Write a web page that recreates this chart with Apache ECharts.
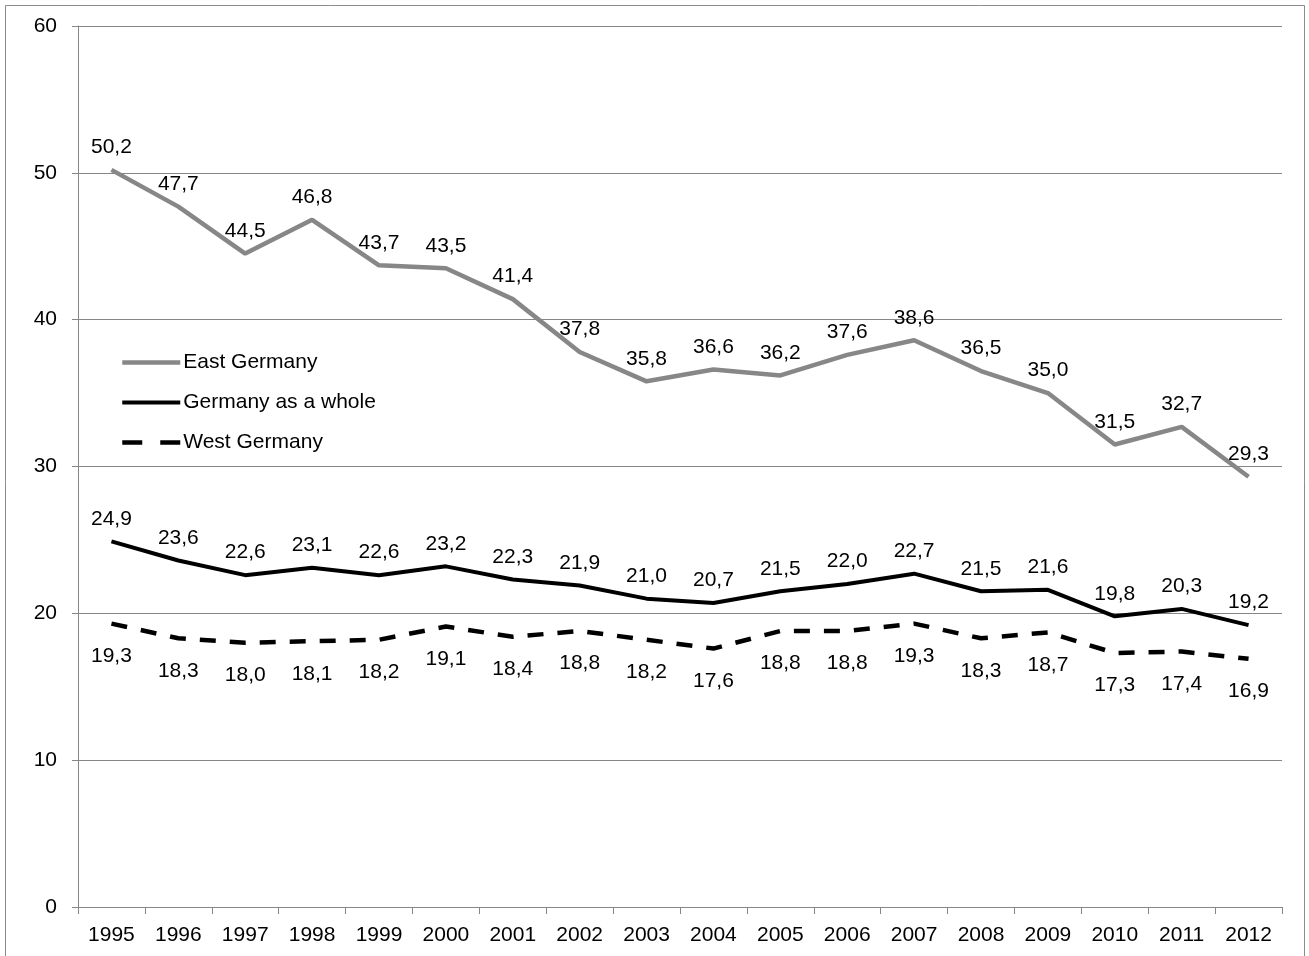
<!DOCTYPE html>
<html>
<head>
<meta charset="utf-8">
<script src="https://cdn.jsdelivr.net/npm/echarts@6/dist/echarts.min.js"></script>
<style>
html,body{margin:0;padding:0;background:#fff;}
#chart{width:1309px;height:956px;}
</style>
</head>
<body>
<div id="chart"></div>
<script>
const years = ['1995','1996','1997','1998','1999','2000','2001','2002','2003','2004','2005','2006','2007','2008','2009','2010','2011','2012'];
const eastGermany = [50.2,47.7,44.5,46.8,43.7,43.5,41.4,37.8,35.8,36.6,36.2,37.6,38.6,36.5,35.0,31.5,32.7,29.3];
const germanyWhole = [24.9,23.6,22.6,23.1,22.6,23.2,22.3,21.9,21.0,20.7,21.5,22.0,22.7,21.5,21.6,19.8,20.3,19.2];
const westGermany = [19.3,18.3,18.0,18.1,18.2,19.1,18.4,18.8,18.2,17.6,18.8,18.8,19.3,18.3,18.7,17.3,17.4,16.9];

const FONT = 'Liberation Sans, Arial, sans-serif';
const FS = 21;
const fmt = p => p.value.toFixed(1).replace('.', ',');

const chart = echarts.init(document.getElementById('chart'));
chart.setOption({
  animation: false,
  backgroundColor: '#fff',
  textStyle: {fontFamily: FONT},
  graphic: [{
    type: 'rect',
    shape: {x: 5.5, y: 5.5, width: 1299, height: 960},
    style: {fill: null, stroke: '#8c8c8c', lineWidth: 1},
    silent: true
  }],
  grid: {left: 78, right: 27, top: 26, bottom: 49, containLabel: false},
  legend: {
    orient: 'vertical',
    left: 115, top: 347,
    itemWidth: 58, itemHeight: 20, itemGap: 19,
    itemStyle: {opacity: 0},
    textStyle: {fontFamily: FONT, fontSize: FS, color: '#000', padding: [0,0,0,-2]},
    data: [
      {name: 'East Germany', lineStyle: {width: 4.5, color: '#878787'}},
      {name: 'Germany as a whole', lineStyle: {width: 4, color: '#000'}},
      {name: 'West Germany', lineStyle: {width: 4.5, color: '#000', type: [20, 18]}}
    ]
  },
  xAxis: {
    type: 'category',
    data: years,
    boundaryGap: true,
    axisLine: {lineStyle: {color: '#868686', width: 1}},
    axisTick: {show: true, length: 7, lineStyle: {color: '#868686'}},
    axisLabel: {fontFamily: FONT, fontSize: FS, color: '#000', margin: 18}
  },
  yAxis: {
    type: 'value',
    min: 0, max: 60, interval: 10,
    axisLine: {show: true, lineStyle: {color: '#868686', width: 1}},
    axisTick: {show: true, length: 6, lineStyle: {color: '#868686'}},
    splitLine: {show: true, lineStyle: {color: '#868686', width: 1}},
    axisLabel: {fontFamily: FONT, fontSize: FS, color: '#000', margin: 21}
  },
  series: [
    {
      name: 'East Germany', type: 'line', data: eastGermany,
      symbol: 'circle', symbolSize: 0, showSymbol: true,
      lineStyle: {color: '#878787', width: 4.5},
      itemStyle: {color: '#878787'},
      label: {show: true, position: 'top', distance: 12, formatter: fmt,
        fontFamily: FONT, fontSize: FS, color: '#000'}
    },
    {
      name: 'Germany as a whole', type: 'line', data: germanyWhole,
      symbol: 'circle', symbolSize: 0, showSymbol: true,
      lineStyle: {color: '#000', width: 4},
      itemStyle: {color: '#000'},
      label: {show: true, position: 'top', distance: 12, formatter: fmt,
        fontFamily: FONT, fontSize: FS, color: '#000'}
    },
    {
      name: 'West Germany', type: 'line', data: westGermany,
      symbol: 'circle', symbolSize: 0, showSymbol: true,
      lineStyle: {color: '#000', width: 4.5, type: [16, 14]},
      itemStyle: {color: '#000'},
      label: {show: true, position: 'bottom', distance: 22, formatter: fmt,
        fontFamily: FONT, fontSize: FS, color: '#000'}
    }
  ]
});
</script>
</body>
</html>
